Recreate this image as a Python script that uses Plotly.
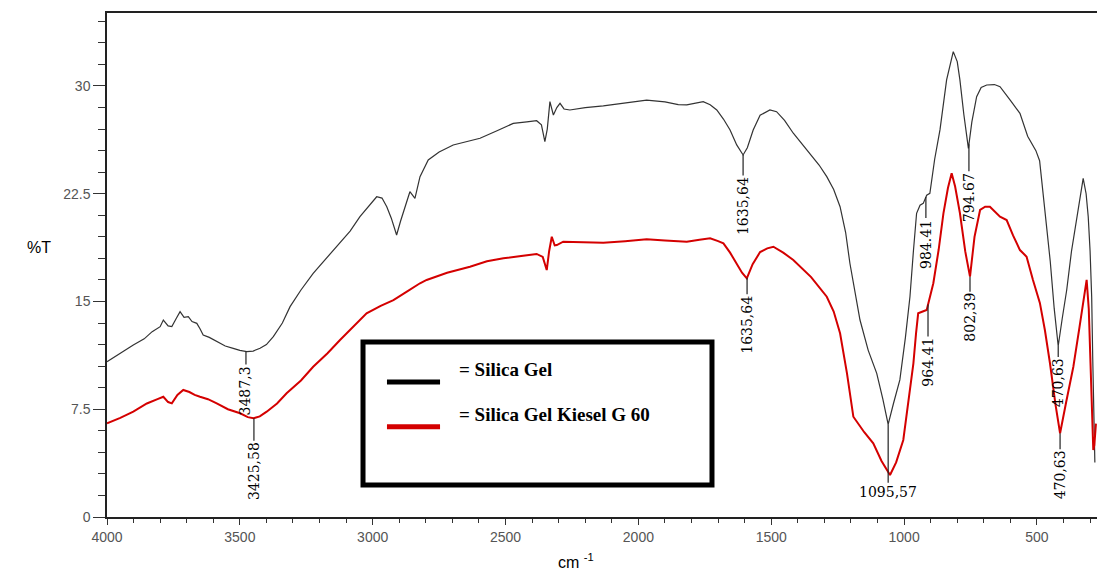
import numpy as np
import plotly.graph_objects as go

# ---- Silica Gel (black) ----
wn_black = [4000, 3950, 3901, 3860, 3830, 3800, 3788, 3770, 3756, 3740, 3725, 3710, 3694, 3680, 3662, 3650,
            3638, 3615, 3587, 3555, 3525, 3500, 3474, 3450, 3424, 3400, 3374, 3340, 3311, 3270, 3224, 3175,
            3123, 3085, 3048, 3015, 2985, 2965, 2947, 2930, 2910, 2895, 2878, 2860, 2841, 2822, 2791, 2750,
            2697, 2650, 2596, 2530, 2471, 2420, 2383, 2365, 2352, 2343, 2333, 2320, 2307, 2295, 2280, 2258,
            2200, 2132, 2050, 1969, 1900, 1850, 1818, 1790, 1756, 1730, 1705, 1680, 1655, 1630, 1618, 1606,
            1590, 1568, 1542, 1520, 1505, 1480, 1450, 1417, 1385, 1354, 1320, 1291, 1265, 1241, 1220, 1204,
            1185, 1166, 1135, 1103, 1080, 1060, 1040, 1016, 995, 978, 965, 953, 940, 928, 915, 903,
            885, 865, 840, 815, 800, 790, 775, 758, 745, 727, 710, 689, 660, 639, 600, 564,
            535, 504, 490, 470, 450, 435, 420, 405, 388, 370, 350, 326, 315, 307, 300, 294,
            290, 286, 282]
t_black = [10.8, 11.4, 11.97, 12.4, 12.9, 13.25, 13.71, 13.3, 13.25, 13.8, 14.29, 13.9, 13.94, 13.6, 13.48, 13.1,
           12.67, 12.5, 12.2, 11.9, 11.74, 11.6, 11.51, 11.55, 11.74, 12.0, 12.55, 13.5, 14.64, 15.8, 16.96, 18.0,
           19.05, 19.9, 20.9, 21.6, 22.29, 22.2, 21.6, 20.8, 19.63, 20.6, 21.6, 22.64, 22.18, 23.69, 24.85, 25.4,
           25.89, 26.1, 26.36, 26.9, 27.4, 27.5, 27.58, 27.3, 26.12, 27.0, 28.91, 27.98, 28.5, 28.79, 28.4, 28.33,
           28.5, 28.61, 28.8, 29.02, 28.9, 28.7, 28.68, 28.8, 28.91, 28.7, 28.33, 27.7, 26.94, 25.9, 25.54, 25.2,
           25.7, 26.94, 27.96, 28.2, 28.33, 28.21, 27.6, 26.71, 26.0, 25.31, 24.5, 23.69, 22.8, 21.6, 19.8, 17.66,
           15.6, 13.71, 11.6, 10.0, 8.2, 6.45, 7.9, 9.54, 12.5, 15.33, 18.5, 21.14, 21.7, 21.83, 22.4, 22.53,
           24.9, 26.94, 30.42, 32.39, 31.7, 30.42, 28.0, 25.66, 27.5, 29.25, 29.9, 30.07, 30.1, 29.95, 29.0, 28.1,
           26.5, 25.5, 24.8, 21.5, 17.8, 14.5, 11.9, 13.8, 15.8, 18.5, 20.9, 23.57, 22.5, 20.9, 18.5, 15.3,
           11.0, 6.0, 3.8]

# ---- Silica Gel Kiesel G 60 (red) ----
wn_red = [4000, 3950, 3901, 3850, 3810, 3788, 3770, 3756, 3735, 3713, 3690, 3670, 3650, 3620, 3587, 3545,
          3499, 3470, 3449, 3425, 3399, 3360, 3324, 3270, 3224, 3170, 3123, 3070, 3023, 2970, 2922, 2870,
          2822, 2797, 2720, 2634, 2570, 2508, 2440, 2383, 2360, 2345, 2336, 2326, 2315, 2307, 2283, 2200,
          2132, 2050, 1969, 1900, 1818, 1770, 1730, 1700, 1680, 1655, 1630, 1610, 1592, 1570, 1542, 1515,
          1492, 1455, 1417, 1350, 1291, 1265, 1241, 1215, 1191, 1150, 1116, 1085, 1053, 1030, 1003, 985,
          965, 955, 947, 930, 915, 890, 870, 852, 835, 821, 808, 790, 770, 752, 735, 714,
          695, 677, 660, 639, 614, 590, 564, 539, 515, 489, 470, 451, 430, 413, 390, 363,
          340, 313, 305, 300, 294, 288, 284, 278]
t_red = [6.52, 6.9, 7.33, 7.9, 8.2, 8.37, 8.0, 7.91, 8.5, 8.84, 8.7, 8.5, 8.37, 8.2, 7.91, 7.5,
         7.22, 6.95, 6.87, 7.0, 7.33, 7.9, 8.61, 9.5, 10.46, 11.4, 12.32, 13.3, 14.18, 14.7, 15.1, 15.7,
         16.27, 16.5, 17.0, 17.42, 17.8, 18.01, 18.2, 18.31, 18.1, 17.19, 18.5, 19.51, 18.9, 18.93, 19.16, 19.1,
         19.09, 19.2, 19.33, 19.25, 19.16, 19.3, 19.4, 19.2, 19.05, 18.4, 17.66, 17.0, 16.61, 17.6, 18.44, 18.7,
         18.81, 18.4, 17.89, 16.7, 15.33, 14.3, 12.79, 10.0, 6.98, 5.9, 5.13, 3.9, 2.92, 3.8, 5.36, 7.8,
         10.7, 12.8, 14.18, 14.3, 14.41, 16.27, 18.6, 21.14, 22.9, 23.92, 23.0, 21.16, 18.5, 16.73, 19.5, 21.37,
         21.6, 21.6, 21.3, 20.9, 20.67, 19.6, 18.58, 18.12, 16.5, 14.9, 13.0, 10.7, 7.8, 5.83, 8.0, 10.46,
         13.2, 16.5, 14.5, 11.62, 8.0, 4.66, 5.0, 6.5]

# ---- peak labels: (wavenumber position, label, pixel offset, angle) ----
labels_black = [(3477, "3487,3", 39, -90), (1606, "1635,64", 51, -90), (918, "984.41", 47, -90),
                (756, "794.67", 53, -90), (420, "470,63", 37, -90), (1060, "1095,57", 68, 0)]
labels_red = [(3447, "3425,58", 53, -90), (1591, "1635,64", 47, -90), (910, "964.41", 58, -90),
              (752, "802,39", 41, -90), (413, "470,63", 42, -90)]

y_ticks = [0, 7.5, 15, 22.5, 30]
legend_names = ["= Silica Gel", "= Silica Gel Kiesel G 60"]
colors = ["#333333", "#d40000"]

fig = go.Figure()
fig.add_trace(go.Scatter(x=wn_black, y=t_black, mode="lines", line=dict(color=colors[0], width=1.2),
                         name=legend_names[0]))
fig.add_trace(go.Scatter(x=wn_red, y=t_red, mode="lines", line=dict(color=colors[1], width=2),
                         name=legend_names[1]))

lab_font = dict(family="DejaVu Serif", size=14, color="black")
for series, labs in ((0, labels_black), (1, labels_red)):
    xs = np.array(wn_black if series == 0 else wn_red)[::-1]
    ys = np.array(t_black if series == 0 else t_red)[::-1]
    for xv, txt, off, ang in labs:
        fig.add_annotation(x=xv, y=float(np.interp(xv, xs, ys)), xref="x", yref="y", text=txt,
                           textangle=ang, showarrow=True, arrowhead=0, arrowwidth=1.2,
                           arrowcolor="#222", ax=0, ay=off, font=lab_font, borderpad=1)

# axis titles
fig.add_annotation(x=-0.083, y=0.534, xref="paper", yref="paper", text="%T", showarrow=False,
                   font=dict(family="Arial", size=16, color="black"))
fig.add_annotation(x=0.474, y=-0.111, xref="paper", yref="paper", text="cm <sup>-1</sup>",
                   showarrow=False, font=dict(family="Arial", size=16, color="black"))

# manual legend box
fig.add_shape(type="rect", xref="paper", yref="paper", x0=0.2586, x1=0.6111, y0=0.0635, y1=0.3472,
              line=dict(color="black", width=5), fillcolor="white", layer="above")
for i, yy in enumerate([0.268, 0.179]):
    fig.add_shape(type="line", xref="paper", yref="paper", x0=0.2828, x1=0.3364, y0=yy, y1=yy,
                  line=dict(color="black" if i == 0 else "#d40000", width=5), layer="above")
    fig.add_annotation(x=0.3535, y=yy, xref="paper", yref="paper", xanchor="left",
                       text="<b>" + legend_names[i] + "</b>", showarrow=False,
                       font=dict(family="Liberation Serif, Times New Roman, serif", size=19, color="black"))

fig.update_layout(width=1097, height=582, margin=dict(l=107, r=0, t=13, b=65),
                  plot_bgcolor="white", paper_bgcolor="white", showlegend=False)
fig.update_xaxes(range=[4000, 274], dtick=500, tick0=0, ticks="outside", ticklen=6, tickcolor="#333",
                 showline=True, linecolor="#222", linewidth=1.5, mirror=True, showgrid=False,
                 zeroline=False, minor=dict(dtick=100, ticks="outside", ticklen=4, tickcolor="#333"),
                 tickfont=dict(family="Arial", size=14, color="#555"))
fig.update_yaxes(range=[0, 35.08], tickvals=y_ticks, ticktext=[str(v) for v in y_ticks], ticks="outside",
                 ticklen=12, tickcolor="#333", showline=True, linecolor="#222", linewidth=1.5,
                 showgrid=False, zeroline=False,
                 minor=dict(dtick=1.5, ticks="outside", ticklen=7, tickcolor="#333"),
                 tickfont=dict(family="Arial", size=14, color="#555"))

page_css = ("document.body.style.margin='0';"
            "document.documentElement.style.overflow='hidden';")
fig.write_html("out.html", post_script=page_css, config={"displayModeBar": False})
